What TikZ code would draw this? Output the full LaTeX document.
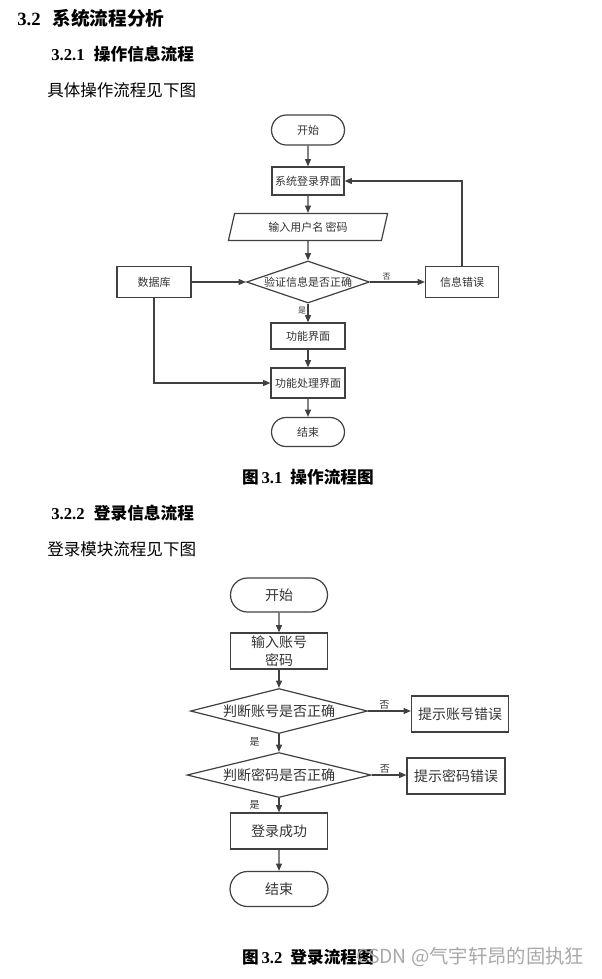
\documentclass[tikz,border=0pt]{standalone}
\usepackage{fontspec}
\setmainfont{Liberation Serif}
\newfontfamily\cjk{Noto Sans CJK SC}
\usetikzlibrary{shapes.geometric,shapes.misc,arrows.meta}
\definecolor{linegray}{HTML}{404040}
\definecolor{textgray}{HTML}{333333}
\definecolor{markgray}{HTML}{A8A8A8}
\tikzset{
  base/.style={draw=linegray,line width=0.9pt,text=textgray,inner sep=0pt,align=center},
  sz/.style 2 args={minimum width=#1*0.75pt,minimum height=#2*0.75pt},
  term/.style={base,rounded rectangle},
  procbox/.style={base,rectangle},
  iobox/.style={base,trapezium,trapezium left angle=72,trapezium right angle=108,trapezium stretches=true},
  decide/.style={base,diamond,aspect=3.5},
  smallf/.style={font=\fontsize{8.25pt}{10pt}\cjk},
  bigf/.style={font=\fontsize{10.5pt}{14pt}\cjk},
  flowarrow/.style={draw=linegray,line width=0.9pt,-{Triangle[length=5.5pt,width=4.5pt]}},
  yesno/.style={font=\fontsize{6pt}{7pt}\cjk,text=textgray,inner sep=1pt},
  yesnobig/.style={font=\fontsize{7.5pt}{8pt}\cjk,text=textgray,inner sep=1pt},
  heading/.style={anchor=west,inner sep=0pt,font=\fontsize{14pt}{16pt}\bfseries},
  subheading/.style={anchor=west,inner sep=0pt,font=\fontsize{12.5pt}{15pt}\bfseries},
  plain/.style={anchor=west,inner sep=0pt,font=\fontsize{12.4pt}{14pt}\cjk},
  caption/.style={inner sep=0pt,font=\fontsize{12.5pt}{14pt}\bfseries}
}
\begin{document}
\begin{tikzpicture}[x=0.75pt,y=-0.75pt]
\useasboundingbox (0,0) rectangle (601,979);
% headings and text
\node[heading] (h32) at (17,18) {3.2\hspace{9pt}{\cjk 系统流程分析}};
\node[subheading] (h321) at (51,54) {3.2.1\hspace{7pt}{\cjk 操作信息流程}};
\node[plain] (t1) at (47,90) {具体操作流程见下图};
\node[caption] (cap1) at (308,477) {{\cjk 图}\,3.1\hspace{6pt}{\cjk 操作流程图}};
\node[subheading] (h322) at (51,513) {3.2.2\hspace{7pt}{\cjk 登录信息流程}};
\node[plain] (t2) at (47,549) {登录模块流程见下图};
\node[caption] (cap2) at (308,957) {{\cjk 图}\,3.2\hspace{6pt}{\cjk 登录流程图}};
\node[anchor=west,inner sep=0pt,text=markgray,font=\fontsize{14.5pt}{17pt}\cjk] (mark) at (356,957) {CSDN @气宇轩昂的固执狂};
% first flowchart
\begin{scope}[every node/.style={smallf}]
  \node[term,sz={73}{30}] (start1) at (308,130) {开始};
  \node[procbox,sz={72}{28}] (login1) at (308,181) {系统登录界面};
  \node[iobox,sz={160}{27}] (input1) at (308,227) {输入用户名 密码};
  \node[decide,sz={123}{42},aspect=3] (check1) at (308,282) {验证信息是否正确};
  \node[procbox,sz={74}{31}] (db) at (154,282) {数据库};
  \node[procbox,sz={73}{31}] (err1) at (462,282) {信息错误};
  \node[procbox,sz={74}{26}] (func1) at (308,336) {功能界面};
  \node[procbox,sz={74}{30}] (handle1) at (308,383) {功能处理界面};
  \node[term,sz={73}{29}] (end1) at (308,432) {结束};
\end{scope}
\begin{scope}[every edge/.style={flowarrow}]
  \path (start1) edge (login1);
  \path (login1) edge (input1);
  \path (input1) edge (check1);
  \path (check1) edge node[yesno,above,pos=0.3]{否} (err1);
  \path (db) edge (check1);
  \path (check1) edge node[yesno,left,pos=0.4]{是} (func1);
  \path (func1) edge (handle1);
  \path (handle1) edge (end1);
\end{scope}
\draw[flowarrow] (err1) |- (login1);
\draw[flowarrow] (db) |- (handle1);
% second flowchart
\begin{scope}[every node/.style={bigf}]
  \node[term,sz={97}{34}] (start2) at (279,595) {开始};
  \node[procbox,sz={97}{36}] (input2) at (279,651) {输入账号\\密码};
  \node[decide,sz={177}{45},aspect=4] (check2) at (279,711) {判断账号是否正确};
  \node[procbox,sz={97}{36}] (err2) at (460,714) {提示账号错误};
  \node[decide,sz={184}{45},aspect=4] (check3) at (279,775) {判断密码是否正确};
  \node[procbox,sz={98}{36}] (err3) at (456,776) {提示密码错误};
  \node[procbox,sz={97}{36}] (succ) at (279,831) {登录成功};
  \node[term,sz={98}{35}] (end2) at (279,889) {结束};
\end{scope}
\begin{scope}[every edge/.style={flowarrow}]
  \path (start2) edge (input2);
  \path (input2) edge (check2);
  \path (check2.east) edge node[yesnobig,above,pos=0.38]{否} (check2.east -| err2.west);
  \path (check2) edge node[yesnobig,left=13pt,pos=0.45]{是} (check3);
  \path (check3.east) edge node[yesnobig,above,pos=0.38]{否} (check3.east -| err3.west);
  \path (check3) edge node[yesnobig,left=13pt,pos=0.5]{是} (succ);
  \path (succ) edge (end2);
\end{scope}
\end{tikzpicture}
\end{document}
